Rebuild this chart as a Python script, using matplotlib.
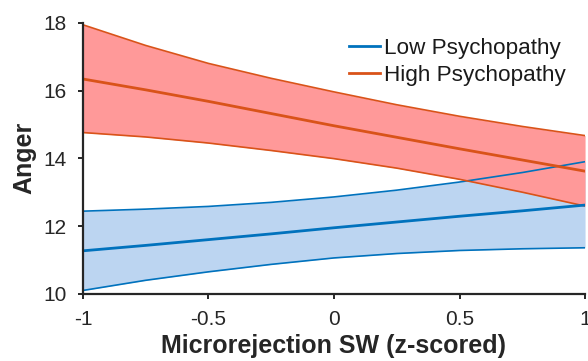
import numpy as np
import matplotlib.pyplot as plt

plt.rcParams['font.family'] = ['Liberation Sans', 'DejaVu Sans']

# values
x = [-1.0, -0.75, -0.5, -0.25, 0.0, 0.25, 0.5, 0.75, 1.0]
low_mean = [11.27, 11.43, 11.60, 11.77, 11.95, 12.12, 12.29, 12.45, 12.62]
low_upper = [12.44, 12.50, 12.58, 12.70, 12.86, 13.06, 13.30, 13.58, 13.90]
low_lower = [10.10, 10.40, 10.65, 10.87, 11.06, 11.19, 11.28, 11.33, 11.36]
high_mean = [16.34, 16.02, 15.68, 15.32, 14.96, 14.62, 14.28, 13.95, 13.62]
high_upper = [17.94, 17.33, 16.80, 16.36, 15.96, 15.58, 15.24, 14.94, 14.67]
high_lower = [14.76, 14.63, 14.45, 14.23, 13.99, 13.71, 13.38, 13.00, 12.59]

xticks = [-1, -0.5, 0, 0.5, 1]
xticklabels = ['-1', '-0.5', '0', '0.5', '1']
yticks = [10, 12, 14, 16, 18]

blue = '#0072BD'
orange = '#D95319'
dark = '#262626'

fig = plt.figure(figsize=(5.88, 3.61), dpi=100)
ax = fig.add_axes([0.141, 0.186, 0.854, 0.751])

ax.fill_between(x, low_lower, low_upper, color='#bcd5f1', lw=0)
ax.fill_between(x, high_lower, high_upper, color='#ff9999', lw=0)
ax.plot(x, low_upper, color=blue, lw=1.2)
ax.plot(x, low_lower, color=blue, lw=1.2)
ax.plot(x, high_upper, color=orange, lw=1.2)
ax.plot(x, high_lower, color=orange, lw=1.2)
ax.plot(x, low_mean, color=blue, lw=2, label='Low Psychopathy')
ax.plot(x, high_mean, color=orange, lw=2, label='High Psychopathy')

ax.set_xlim(-1, 1)
ax.set_ylim(10, 18)
ax.set_xticks(xticks)
ax.set_xticklabels(xticklabels)
ax.set_yticks(yticks)
for s in ['top', 'right']:
    ax.spines[s].set_visible(False)
for s in ['left', 'bottom']:
    ax.spines[s].set_linewidth(1.6)
    ax.spines[s].set_color(dark)
ax.tick_params(direction='out', length=3.6, width=1.4, color=dark,
               labelsize=15, labelcolor=dark, pad=8)

ax.set_xlabel('Microrejection SW (z-scored)', fontsize=18, fontweight='bold',
              color=dark, labelpad=3.5)
ax.set_ylabel('Anger', fontsize=18, fontweight='bold', color=dark, labelpad=5)

leg = ax.legend(loc='upper right', bbox_to_anchor=(0.962, 0.945), frameon=False,
                fontsize=16.2, handlelength=1.35, handletextpad=0.2,
                labelspacing=0.26, borderaxespad=0, borderpad=0)
for t in leg.get_texts():
    t.set_color('#1a1a1a')

fig.savefig('out.png', dpi=100)
